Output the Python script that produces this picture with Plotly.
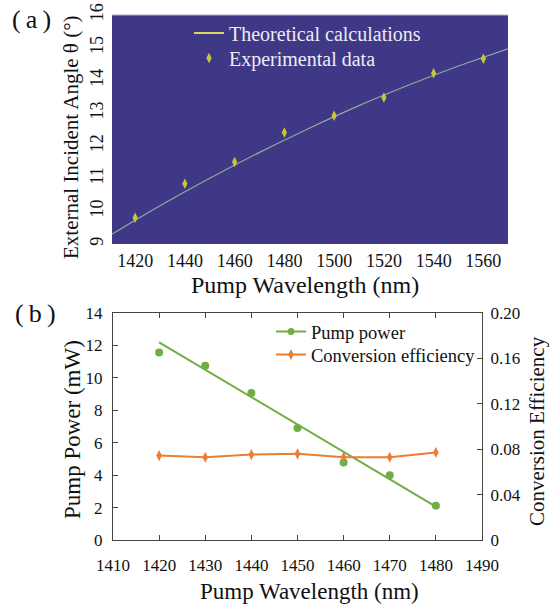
import plotly.graph_objects as go

W, H = 552, 607

# ---------------- Panel (a) data ----------------
exp_wavelength = [1420, 1440, 1460, 1480, 1500, 1520, 1540, 1560]
exp_angle = [9.80, 10.84, 11.51, 12.41, 12.92, 13.48, 14.22, 14.66]
theory_wavelength = [1410, 1430, 1450, 1470, 1490, 1510, 1530, 1550, 1570]
theory_angle = [9.27, 10.17, 11.01, 11.80, 12.54, 13.23, 13.86, 14.44, 14.97]
a_xticks = [1420, 1440, 1460, 1480, 1500, 1520, 1540, 1560]
a_yticks = [9, 10, 11, 12, 13, 14, 15, 16]

# ---------------- Panel (b) data ----------------
b_wavelength = [1420, 1430, 1440, 1450, 1460, 1470, 1480]
pump_power = [11.57, 10.75, 9.06, 6.90, 4.78, 3.99, 2.12]
pump_fit_wavelength = [1420, 1480]
pump_fit_power = [12.19, 2.06]
conv_eff = [0.0744, 0.0729, 0.0753, 0.0759, 0.0729, 0.0729, 0.0771]
b_xticks = [1410, 1420, 1430, 1440, 1450, 1460, 1470, 1480, 1490]
b_yticks = [0, 2, 4, 6, 8, 10, 12, 14]
b_y2ticks = [0, 0.04, 0.08, 0.12, 0.16, 0.20]
b_y2ticktext = ["0", "0.04", "0.08", "0.12", "0.16", "0.20"]

FONT = '"Liberation Serif", "Times New Roman", "DejaVu Serif", serif'
GREEN = "#70ad47"
ORANGE = "#ed7d31"
YELLOW = "#c8c836"
BG_A = "#3f3887"

def px(x):
    return x / W

def py(y):
    return 1 - y / H

fig = go.Figure()

# Panel (a)
fig.add_trace(go.Scatter(x=theory_wavelength, y=theory_angle, mode="lines",
                         line=dict(color="#93aa9c", width=1.2, shape="spline"),
                         showlegend=False, xaxis="x", yaxis="y", hoverinfo="skip"))
fig.add_trace(go.Scatter(x=[None], y=[None], mode="lines", name="Theoretical calculations",
                         line=dict(color="#d8d85a", width=2), legend="legend",
                         xaxis="x", yaxis="y"))
fig.add_trace(go.Scatter(x=exp_wavelength, y=exp_angle, mode="markers", name="Experimental data",
                         marker=dict(symbol="diamond-tall", size=7.5, color=YELLOW),
                         legend="legend3", xaxis="x", yaxis="y"))

# Panel (b)
fig.add_trace(go.Scatter(x=pump_fit_wavelength, y=pump_fit_power, mode="lines",
                         line=dict(color=GREEN, width=2), showlegend=False,
                         xaxis="x2", yaxis="y2"))
fig.add_trace(go.Scatter(x=b_wavelength, y=pump_power, mode="markers",
                         marker=dict(symbol="circle", size=8, color=GREEN),
                         showlegend=False, xaxis="x2", yaxis="y2"))
fig.add_trace(go.Scatter(x=[None], y=[None], mode="lines+markers", name="Pump power",
                         line=dict(color=GREEN, width=2),
                         marker=dict(symbol="circle", size=7, color=GREEN),
                         legend="legend2", xaxis="x2", yaxis="y2"))
fig.add_trace(go.Scatter(x=b_wavelength, y=conv_eff, mode="lines+markers", name="Conversion efficiency",
                         line=dict(color=ORANGE, width=2),
                         marker=dict(symbol="diamond-tall", size=8, color=ORANGE),
                         legend="legend4", xaxis="x2", yaxis="y3"))

tickfont_a = dict(family=FONT, size=18, color="#111")
tickfont_b = dict(family=FONT, size=17, color="#111")


def leg(x, y, size, color):
    return dict(x=px(x), y=py(y), xanchor="left", yanchor="middle",
                bgcolor="rgba(0,0,0,0)", borderwidth=0,
                font=dict(family=FONT, size=size, color=color), itemwidth=30)


def ann(text, x, y, size, angle=0):
    return dict(text=text, x=px(x), y=py(y), xref="paper", yref="paper",
                xanchor="center", yanchor="middle", showarrow=False, textangle=angle,
                font=dict(family=FONT, size=size, color="#111"))


fig.update_layout(
    width=W, height=H, autosize=False,
    margin=dict(l=0, r=0, t=0, b=0, pad=0, autoexpand=False),
    paper_bgcolor="white", plot_bgcolor="white",
    font=dict(family=FONT, color="#111"),
    xaxis=dict(domain=[px(112), px(508)], range=[1410.7, 1569.9], tickvals=a_xticks,
               showgrid=False, zeroline=False, showline=False, ticks="", automargin=False,
               tickfont=tickfont_a, anchor="y", ticklabelstandoff=4),
    yaxis=dict(domain=[py(244), py(15)], range=[9, 16], tickvals=a_yticks,
               showgrid=False, zeroline=False, showline=False, ticks="", automargin=False,
               tickangle=-90, tickfont=tickfont_a, anchor="x", ticklabelstandoff=4),
    xaxis2=dict(domain=[px(113), px(482)], range=[1410, 1490], tickvals=b_xticks,
                showgrid=False, zeroline=False, showline=True, linecolor="#444", linewidth=1,
                mirror="ticks", ticks="inside", ticklen=5, tickcolor="#444", automargin=False,
                tickfont=tickfont_b, anchor="y2", ticklabelstandoff=10),
    yaxis2=dict(domain=[py(540), py(313)], range=[0, 14], tickvals=b_yticks,
                showgrid=False, zeroline=False, showline=True, linecolor="#444", linewidth=1,
                ticks="inside", ticklen=5, tickcolor="#444", automargin=False,
                tickfont=tickfont_b, anchor="x2", ticklabelstandoff=6),
    yaxis3=dict(range=[0, 0.2], tickvals=b_y2ticks, ticktext=b_y2ticktext,
                overlaying="y2", side="right", anchor="x2", automargin=False,
                showgrid=False, zeroline=False, showline=True, linecolor="#444", linewidth=1,
                ticks="inside", ticklen=5, tickcolor="#444",
                tickfont=tickfont_b, ticklabelstandoff=4),
    legend=leg(189, 33, 20, "#ececf6"),
    legend3=leg(189, 58, 20, "#ececf6"),
    legend2=leg(271, 332, 18.5, "#111"),
    legend4=leg(271, 355, 18.5, "#111"),
    shapes=[
        dict(type="rect", xref="x domain", yref="y domain", x0=0, x1=1, y0=0, y1=1,
             fillcolor=BG_A, line=dict(width=0), layer="below"),
        dict(type="line", xref="x domain", yref="y domain", x0=0, x1=1, y0=1, y1=1,
             line=dict(color="#b4b2d6", width=1), layer="below"),
    ],
    annotations=[
        ann("(\u2009a\u2009)", 31, 20, 26),
        ann("(\u2009b\u2009)", 35, 313, 26),
        ann("External Incident Angle \u03b8 (\u00b0)", 71, 137, 21, -90),
        ann("Pump Wavelength (nm)", 305, 285, 24),
        ann("Pump Power (mW)", 72, 430, 23, -90),
        ann("Conversion Efficiency", 537, 431, 21, -90),
        ann("Pump Wavelength (nm)", 309, 591, 23),
    ],
)

fig.write_html("out.html", config={"displayModeBar": False},
               post_script="document.body.style.margin='0';")
